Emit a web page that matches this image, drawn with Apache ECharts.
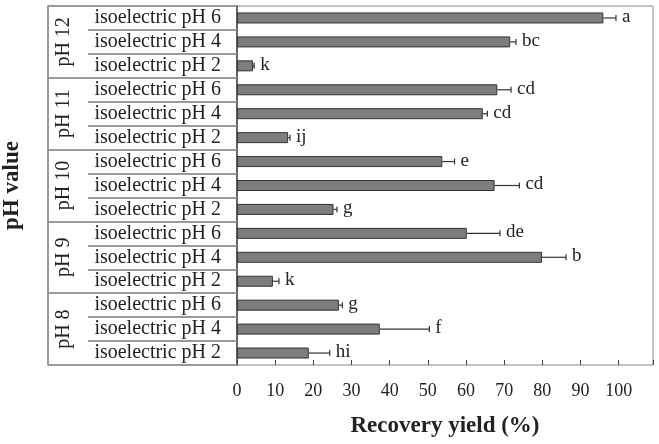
<!DOCTYPE html>
<html lang="en">
<head>
    <meta charset="UTF-8">
    <title>Recovery yield</title>
    <style>
        html,body{margin:0;padding:0;background:#fff;}
        #main{width:659px;height:444px;}
    </style>
    <script src="https://cdn.jsdelivr.net/npm/echarts@6/dist/echarts.min.js"></script>
</head>
<body>
    <div id="main"></div>
</body>
<script>
    // rows listed from bottom to top
    var isoLabels = [
        'isoelectric pH 2','isoelectric pH 4','isoelectric pH 6',
        'isoelectric pH 2','isoelectric pH 4','isoelectric pH 6',
        'isoelectric pH 2','isoelectric pH 4','isoelectric pH 6',
        'isoelectric pH 2','isoelectric pH 4','isoelectric pH 6',
        'isoelectric pH 2','isoelectric pH 4','isoelectric pH 6'
    ];
    var groupLabels = ['pH 8','pH 9','pH 10','pH 11','pH 12'];
    // recovery yield (%)
    var yieldVals = [18.8, 37.4, 26.7, 9.4, 79.9, 60.2, 25.3, 67.5, 53.8, 13.4, 64.4, 68.2, 4.2, 71.6, 96.0];
    // error (+)
    var errVals = [5.5, 13.0, 0.9, 1.6, 6.3, 8.7, 0.9, 6.5, 3.2, 0.5, 1.2, 3.6, 0.3, 1.5, 3.3];
    // significance letters
    var letters = ['hi','f','g','k','b','de','g','cd','e','ij','cd','cd','k','bc','a'];
    var xTicks = [0, 100, 10];   // min, max label, step

    var serif = '"Liberation Serif","Times New Roman",serif';
    var mCharts = echarts.init(document.getElementById('main'));

    var errData = yieldVals.map(function(v, i){ return [i, v, errVals[i], letters[i]]; });

    var option = {
        animation:false,
        grid:{
            left:237, right:6, top:6, bottom:79,
            outerBoundsMode:'none',
            containLabel:false,
            show:true, borderColor:'#888', borderWidth:1
        },
        xAxis:{
            type:'value',
            min:xTicks[0],
            max:109,
            interval:xTicks[2],
            splitLine:{show:false},
            axisLine:{lineStyle:{color:'#555', width:1.5}},
            axisTick:{show:true, inside:true, length:5, lineStyle:{color:'#444'}},
            axisLabel:{
                margin:17, fontFamily:serif, fontSize:18, color:'#222',
                formatter:function(v){ return v <= xTicks[1] ? v : ''; }
            },
            name:'Recovery yield (%)',
            nameLocation:'middle',
            nameGap:50,
            nameTextStyle:{fontFamily:serif, fontSize:23, fontWeight:'bold', color:'#222'}
        },
        yAxis:[
            {
                type:'category',
                data:isoLabels,
                position:'left',
                axisLine:{show:true, lineStyle:{color:'#444', width:1.5}},
                axisTick:{show:true, interval:0, length:149, lineStyle:{color:'#999', width:2}},
                axisLabel:{interval:0, margin:16, fontFamily:serif, fontSize:20, color:'#222'}
            },
            {
                type:'category',
                data:groupLabels,
                position:'left',
                offset:189,
                axisLine:{show:true, lineStyle:{color:'#777', width:1.5}},
                axisTick:{show:true, interval:0, inside:true, length:189, lineStyle:{color:'#999', width:2}},
                axisLabel:{interval:0, inside:true, rotate:90, margin:6, fontFamily:serif, fontSize:20, color:'#222'},
                name:'pH value',
                nameLocation:'middle',
                nameGap:24,
                nameTextStyle:{fontFamily:serif, fontSize:23, fontWeight:'bold', color:'#222'}
            }
        ],
        series:[
            {
                type:'bar',
                yAxisIndex:0,
                data:yieldVals,
                barWidth:11,
                itemStyle:{color:'#7d7d7d', borderColor:'#333', borderWidth:1}
            },
            {
                type:'custom',
                yAxisIndex:0,
                data:errData,
                encode:{x:1, y:0},
                renderItem:function(params, api){
                    var idx = api.value(0);
                    var v = api.value(1);
                    var e = api.value(2);
                    var p0 = api.coord([v, idx]);
                    var p1 = api.coord([v + e, idx]);
                    return {
                        type:'group',
                        children:[
                            {type:'line', shape:{x1:p0[0], y1:p0[1], x2:p1[0], y2:p1[1]},
                             style:{stroke:'#333', lineWidth:1.2}},
                            {type:'line', shape:{x1:p1[0], y1:p1[1]-3, x2:p1[0], y2:p1[1]+3},
                             style:{stroke:'#333', lineWidth:1.2}},
                            {type:'text', x:p1[0] + 6, y:p1[1] - 1,
                             style:{text:letters[params.dataIndex], fontFamily:serif, fontSize:19,
                                    fill:'#222', verticalAlign:'middle', align:'left'}}
                        ]
                    };
                }
            }
        ]
    };
    mCharts.setOption(option);
</script>
</html>
